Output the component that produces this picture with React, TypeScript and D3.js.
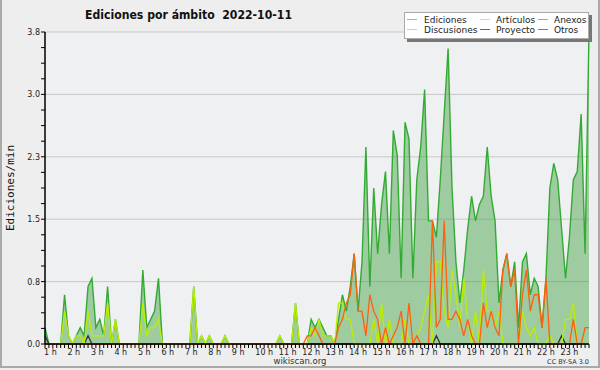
import {useEffect, useRef} from "react";
import * as d3 from "d3";

// 10-minute bins, edits per minute
const ediciones = [
  0.2, 0, 0, 0, 0, 0.6, 0.1, 0, 0.1, 0.2,
  0.1, 0.7, 0.8, 0.2, 0.3, 0.1, 0.7, 0, 0.3, 0,
  0, 0, 0, 0, 0, 0.9, 0.2, 0.3, 0.4, 0.8,
  0, 0, 0, 0, 0, 0, 0, 0, 0.7, 0,
  0.1, 0, 0.1, 0, 0, 0, 0.1, 0, 0, 0,
  0, 0, 0, 0, 0, 0, 0, 0, 0, 0,
  0.1, 0, 0, 0, 0.5, 0, 0, 0, 0.3, 0.2,
  0.3, 0.2, 0.1, 0.1, 0, 0.3, 0.6, 0.4, 0.7, 1.1,
  0.4, 1.0, 2.4, 0.7, 1.9, 1.1, 1.7, 2.1, 1.1, 2.6,
  2.3, 0.8, 2.7, 2.5, 0.8, 2.0, 2.4, 3.1, 1.5, 1.5,
  1.3, 2.0, 2.8, 3.6, 1.9, 1.0, 0.5, 0.9, 1.4, 1.8,
  1.5, 1.7, 1.8, 2.4, 1.8, 1.5, 0.5, 0.9, 1.1, 0.7,
  1.0, 0.2, 1.0, 1.1, 0.6, 0.8, 0.7, 0.2, 0.8, 1.9,
  2.2, 2.0, 1.4, 0.8, 1.3, 2.0, 2.1, 2.8, 1.1, 3.8,
];

const articulos = [
  0, 0, 0, 0, 0, 0.4, 0.1, 0, 0.1, 0.1,
  0, 0.4, 0.1, 0.1, 0.1, 0.1, 0.5, 0, 0.3, 0,
  0, 0, 0, 0, 0, 0.5, 0.1, 0.2, 0.2, 0.3,
  0, 0, 0, 0, 0, 0, 0, 0, 0.7, 0,
  0.1, 0, 0.1, 0, 0, 0, 0.1, 0, 0, 0,
  0, 0, 0, 0, 0, 0, 0, 0, 0, 0,
  0.1, 0, 0, 0, 0.5, 0, 0, 0, 0.2, 0.1,
  0.3, 0.1, 0.1, 0.1, 0, 0.5, 0.5, 0.3, 0.3, 0,
  0, 0, 0, 0, 0.3, 0, 0.5, 0, 0.3, 0,
  0, 0, 0.3, 0, 0, 0.1, 0.2, 0.4, 0.6, 0,
  1.0, 1.0, 0.4, 0.2, 0.9, 0.6, 0.2, 0.8, 0.3, 0,
  0.4, 0, 0.9, 0.4, 0.4, 0.2, 0.4, 0, 0, 0,
  0, 0, 0.4, 0.2, 0.1, 0.2, 0, 0, 0, 0.1,
  0, 0, 0, 0.3, 0.3, 0.5, 0, 0, 0, 0,
];

const anexos = [
  0, 0, 0, 0, 0, 0, 0, 0, 0, 0,
  0, 0, 0, 0, 0, 0, 0, 0, 0, 0,
  0, 0, 0, 0, 0, 0, 0, 0, 0, 0,
  0, 0, 0, 0, 0, 0, 0, 0, 0, 0,
  0, 0, 0, 0, 0, 0, 0, 0, 0, 0,
  0, 0, 0, 0, 0, 0, 0, 0, 0, 0,
  0, 0, 0, 0, 0, 0, 0, 0.1, 0.1, 0.2,
  0.1, 0, 0, 0, 0, 0.2, 0.3, 0.5, 0.6, 1.1,
  0.4, 0.4, 0.1, 0.6, 0.4, 0.3, 0, 0.2, 0, 0.1,
  0.2, 0.4, 0, 0.5, 0, 0.1, 0, 0, 0, 1.5,
  0.2, 0.3, 1.5, 0.3, 0.3, 0.4, 0.3, 0.1, 0.3, 0.1,
  0, 0, 0.5, 0.2, 0.4, 0.2, 0.1, 0.9, 1.1, 0.7,
  0.9, 0, 0.6, 0.9, 0.4, 0.6, 0.6, 0.2, 0.8, 0,
  0, 0, 0, 0, 0, 0.3, 0, 0, 0.2, 0.2,
];

const proyecto = ediciones.map(() => 0);
proyecto[0] = 0.1;
proyecto[11] = 0.1;
proyecto[100] = 0.1;
proyecto[132] = 0.1;

const discusiones = ediciones.map(() => 0);
const otros = ediciones.map(() => 0);

const hourLabels = d3.range(1, 24).map((h) => `${h} h`);
const yTicks = [0, 0.76, 1.52, 2.28, 3.04, 3.8];

const legendItems = [
  {name: "Ediciones", color: "#88cc88", col: 0, row: 0},
  {name: "Discusiones", color: "#ffcc44", col: 0, row: 1},
  {name: "Artículos", color: "#ccee66", col: 1, row: 0},
  {name: "Proyecto", color: "#666666", col: 1, row: 1},
  {name: "Anexos", color: "#ff8855", col: 2, row: 0},
  {name: "Otros", color: "#9955ee", col: 2, row: 1},
];

export default function App() {
  const ref = useRef(null);

  useEffect(() => {
    const el = ref.current;
    if(!el) return;
    const svg = d3.select(el);
    svg.selectAll("*").remove();

    const width = 600;
    const height = 370;
    const margin = {top: 32, right: 11, bottom: 26, left: 45};
    const n = ediciones.length;

    const x = d3.scaleLinear().domain([0, n - 1]).range([margin.left, width - margin.right]);
    const y = d3.scaleLinear().domain([0, 3.8]).range([height - margin.bottom, margin.top]);

    svg.append("rect").attr("width", width).attr("height", height).attr("fill", "#eeeeee");
    svg.append("rect")
      .attr("x", 1).attr("y", -2).attr("width", width - 2).attr("height", height - 1)
      .attr("fill", "none").attr("stroke", "#aaaaaa").attr("stroke-width", 2);

    svg.append("rect")
      .attr("x", x(0)).attr("y", y(3.8))
      .attr("width", x(n - 1) - x(0)).attr("height", y(0) - y(3.8))
      .attr("fill", "#eff0f2");

    // gridlines
    svg.append("g")
      .selectAll("line")
      .data(yTicks.slice(1))
      .join("line")
      .attr("x1", x(0)).attr("x2", x(n - 1))
      .attr("y1", (d) => y(d)).attr("y2", (d) => y(d))
      .attr("stroke", "#c8c8c8").attr("stroke-width", 1);

    const idx = d3.range(n);
    const area = d3.area().x((i) => x(i)).y0(y(0)).y1((i) => y(ediciones[i]));
    const line = (arr) => d3.line().x((i) => x(i)).y((i) => y(arr[i]))(idx);

    svg.append("path").attr("d", area(idx)).attr("fill", "#3c9f3c").attr("fill-opacity", 0.45);
    svg.append("path").attr("d", line(ediciones))
      .attr("fill", "none").attr("stroke", "#33aa33").attr("stroke-width", 1.4);

    const others = [
      {arr: discusiones, color: "#ffcc33"},
      {arr: otros, color: "#9955ee"},
      {arr: proyecto, color: "#333333"},
      {arr: articulos, color: "#bbee00"},
      {arr: anexos, color: "#ff5f0f"},
    ];
    others.forEach((s) => {
      if(!s.arr.some((v) => v > 0)) return;
      svg.append("path").attr("d", line(s.arr))
        .attr("fill", "none").attr("stroke", s.color).attr("stroke-width", 1.3);
    });

    // y axis
    const yAxis = svg.append("g").attr("transform", `translate(${margin.left},0)`);
    yAxis.append("line")
      .attr("x1", 0).attr("x2", 0).attr("y1", y(3.8)).attr("y2", y(0))
      .attr("stroke", "#000").attr("stroke-width", 1.5);
    yAxis.selectAll(".minor")
      .data(d3.range(0, 21).map((k) => k * 0.19))
      .join("line")
      .attr("x1", -4).attr("x2", 0)
      .attr("y1", (d) => y(d)).attr("y2", (d) => y(d))
      .attr("stroke", "#000").attr("stroke-width", 1);
    yAxis.selectAll("text")
      .data(yTicks)
      .join("text")
      .attr("x", -5).attr("y", (d) => y(d) + 3)
      .attr("text-anchor", "end")
      .attr("font-family", "DejaVu Sans").attr("font-size", 8)
      .attr("fill", "#222")
      .text((d) => d.toFixed(1));

    // x axis
    const xAxis = svg.append("g").attr("transform", `translate(0,${y(0)})`);
    xAxis.append("line")
      .attr("x1", x(0)).attr("x2", x(n - 1)).attr("y1", 0).attr("y2", 0)
      .attr("stroke", "#000").attr("stroke-width", 1.5);
    xAxis.selectAll(".tick")
      .data(idx)
      .join("line")
      .attr("x1", (i) => x(i)).attr("x2", (i) => x(i))
      .attr("y1", 0).attr("y2", 4)
      .attr("stroke", "#000").attr("stroke-width", 1);
    xAxis.selectAll("text")
      .data(hourLabels)
      .join("text")
      .attr("x", (d, k) => x(k * 6) - 1)
      .attr("y", 11)
      .attr("font-family", "DejaVu Sans").attr("font-size", 8)
      .attr("fill", "#222")
      .text((d) => d);

    // titles
    svg.append("text")
      .attr("x", 85).attr("y", 19)
      .style("white-space", "pre")
      .attr("font-family", "DejaVu Sans").attr("font-weight", "bold").attr("font-size", 11.5)
      .attr("textLength", 207).attr("lengthAdjust", "spacingAndGlyphs")
      .attr("fill", "#111")
      .text("Ediciones por ámbito  2022-10-11");

    svg.append("text")
      .attr("transform", `translate(14,${(y(0) + y(3.8)) / 2}) rotate(-90)`)
      .attr("text-anchor", "middle")
      .attr("font-family", "DejaVu Sans Mono").attr("font-size", 11)
      .attr("fill", "#111")
      .text("Ediciones/min");

    svg.append("text")
      .attr("x", 300).attr("y", 364).attr("text-anchor", "middle")
      .attr("font-family", "DejaVu Sans").attr("font-size", 8.5).attr("fill", "#333")
      .text("wikiscan.org");

    svg.append("text")
      .attr("x", 589).attr("y", 364).attr("text-anchor", "end")
      .attr("font-family", "DejaVu Sans").attr("font-size", 6.5).attr("fill", "#333")
      .text("CC BY-SA 3.0");

    // legend
    const lg = svg.append("g");
    lg.append("rect").attr("x", 407).attr("y", 15).attr("width", 185).attr("height", 27).attr("fill", "#777");
    lg.append("rect").attr("x", 404.5).attr("y", 12.5).attr("width", 184).attr("height", 26)
      .attr("fill", "#fff").attr("stroke", "#aaa").attr("stroke-width", 1);
    const colX = [407, 480, 538];
    const colT = [424, 496, 554];
    legendItems.forEach((d) => {
      const cy = 19.5 + d.row * 10;
      lg.append("line")
        .attr("x1", colX[d.col]).attr("x2", colX[d.col] + 10)
        .attr("y1", cy).attr("y2", cy)
        .attr("stroke", d.color).attr("stroke-width", 1);
      lg.append("text")
        .attr("x", colT[d.col]).attr("y", cy + 3.5)
        .attr("font-family", "DejaVu Sans").attr("font-size", 9).attr("fill", "#222")
        .text(d.name);
    });
  }, []);

  return (
    <svg
      ref={ref}
      width={600}
      height={370}
      style={{position: "fixed", left: 0, top: 0}}
    />
  );
}
